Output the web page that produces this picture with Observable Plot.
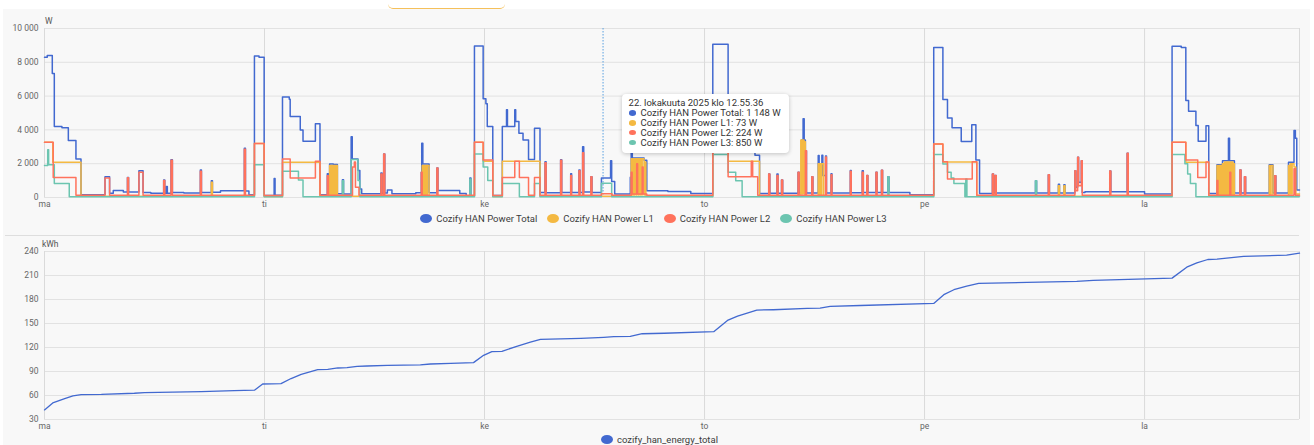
<!DOCTYPE html>
<html><head><meta charset="utf-8">
<script src="https://cdn.jsdelivr.net/npm/d3@7"></script>
<script src="https://cdn.jsdelivr.net/npm/@observablehq/plot@0.6"></script>
<style>
body{margin:0;background:#fff;font-family:Roboto,sans-serif;}
#wrap{position:relative;width:1314px;height:445px;overflow:hidden;background:#fff}
#panel{position:absolute;left:3px;top:9px;width:1307px;height:436px;background:#f8f8f8}
.abs{position:absolute}
svg text{font-family:Roboto,sans-serif}
.legend{position:absolute;left:0;width:1307px;display:flex;justify-content:center;gap:10px;font-size:9.5px;color:#3c3c3c;white-space:nowrap}
.legend span.item{display:flex;align-items:center;gap:4px}
.legend i{display:inline-block;width:12px;height:9px;border-radius:50%}
#tip{position:absolute;background:#fff;border-radius:4px;box-shadow:0 1px 4px rgba(0,0,0,0.22);font-size:9.5px;color:#333;line-height:9.9px;padding:4px 8px 5px 7px;white-space:nowrap}
#tip .row{display:flex;align-items:center;gap:5px}
#tip i{display:inline-block;width:7px;height:5.5px;border-radius:50%}
</style></head><body>
<div id="wrap">
  <div id="panel"></div>
  <div class="abs" style="left:388px;top:4px;width:117px;height:4px;border-bottom:1.5px solid #f5c05a;border-radius:0 0 6px 6px"></div>
  <div id="topchart" class="abs" style="left:0;top:0"></div>
  <div class="abs" style="left:45px;top:16px;font-size:8.5px;color:#555">W</div>
  <div id="leg1" class="legend" style="top:213px"></div>
  <div class="abs" style="left:5px;top:235px;width:1294px;height:1px;background:#dedede"></div>
  <div id="bottomchart" class="abs" style="left:0;top:236px"></div>
  <div class="abs" style="left:42px;top:239px;font-size:8.5px;color:#555">kWh</div>
  <div id="leg2" class="legend" style="top:434px;left:6px"></div>
  <div id="tip"></div>
</div>
<script>
// ---- data (hours from Monday 20.10.2025 00:00) ----
const dayLabels = ["ma", "ti", "ke", "to", "pe", "la"];
const dayTicks = [0, 24, 48, 72, 96, 120];
const powerTicks = [0, 2000, 4000, 6000, 8000, 10000];
const energyTicks = [30, 60, 90, 120, 150, 180, 210, 240];
const seriesNames = ["Cozify HAN Power Total", "Cozify HAN Power L1", "Cozify HAN Power L2", "Cozify HAN Power L3"];
const seriesColors = ["#4269d0", "#f4b942", "#ff725c", "#6cc5b0"];

const powerTotal = [
[0,8300],[0.3,8400],[0.85,7330],[1.07,4200],[1.9,4120],[2.6,3370],[3.43,2280],[3.98,170],
[6.6,1230],[7.1,250],[7.5,420],[8.6,330],[9.05,1190],[9.17,320],[10.3,1590],[10.75,300],[11.6,250],
[13.0,1030],[13.12,250],[13.3,650],[13.4,250],[13.8,2240],[13.95,300],[15.2,260],
[17.0,1630],[17.12,300],[18.2,990],[18.32,310],[19.2,400],[21.8,2910],[21.92,380],[22.3,160],
[22.9,8380],[23.4,8300],[23.96,120],[25.05,1130],[25.15,130],
[25.96,5940],[26.7,5820],[26.8,4790],[27.9,4000],[28.2,3330],[29.55,4360],[30.05,160],
[30.85,1400],[30.97,300],[31.1,1980],[31.5,1950],[31.95,220],[32.5,1050],[32.62,200],
[33.45,3600],[33.57,2280],[34.2,1600],[34.4,500],[34.6,220],
[36.7,1450],[36.82,250],[37.0,2580],[37.12,260],[37.4,440],[37.9,220],
[40.5,280],[41.1,1500],[41.15,3210],[41.27,1980],[41.95,280],[42.8,1750],[42.92,420],[45.3,240],[46.0,110],
[46.4,1150],[46.52,110],
[46.9,8970],[47.85,5840],[48.15,5550],[48.3,4200],[48.9,120],
[49.94,4200],[50.4,5190],[50.5,4200],[51.3,5190],[51.4,4500],[51.75,3800],[52.2,3400],[52.8,2250],[53.45,4100],[54.05,300],
[54.6,2120],[54.72,280],[56.3,2240],[56.42,300],[57.4,1400],[57.5,300],[58.3,1630],[58.42,300],[58.7,3010],[58.82,320],[59.6,1230],[59.72,300],
[60.75,1148],[61.75,2180],[61.87,950],[62.2,200],
[63.9,1200],[64.0,2770],[64.12,2340],[65.4,2200],[65.7,400],[68.0,350],[70.5,240],
[72.9,9070],[74.57,5900],[75.5,4800],[76.5,4000],[77.5,2500],[78.0,240],
[79.0,1390],[79.12,250],[79.9,1390],[80.02,250],[80.4,1030],[80.52,250],[82.2,1490],[82.32,260],
[82.6,3400],[82.75,4660],[82.87,3400],[83.0,2770],[83.12,260],[83.7,1230],[83.82,260],
[84.4,2480],[84.5,1300],[84.8,2500],[84.9,1300],[85.2,2450],[85.3,260],[85.8,1400],[85.9,260],
[87.9,1600],[88.0,280],[89.2,1590],[89.32,300],[89.7,1300],[89.82,300],[90.7,1490],[90.82,300],
[91.3,1610],[91.42,300],[92.0,1230],[92.12,300],[94.4,160],
[97.0,8870],[98.0,5800],[98.5,4710],[99.0,4120],[100.0,3310],[101.15,4300],[101.6,2220],[102.0,240],
[103.4,1390],[103.52,260],[103.7,1300],[103.82,260],[108.1,990],[108.22,260],[109.5,1350],[109.62,260],
[110.6,790],[110.72,260],[111.2,750],[111.32,260],[112.4,1590],[112.5,600],[112.7,2380],[112.8,900],[113.1,2180],[113.2,300],[113.5,340],
[116.2,1570],[116.32,340],[118.1,2620],[118.22,340],[120.0,200],
[123.0,8950],[124.0,8870],[124.5,5740],[124.8,5110],[125.6,4260],[125.85,3330],[126.7,4240],[127.0,240],
[127.9,1940],[128.4,260],[128.5,2180],[129.15,3500],[129.27,2180],[129.8,260],[130.4,1630],[130.52,260],[130.9,1230],[131.02,260],
[133.6,1940],[134.0,260],[134.2,1290],[134.32,260],[135.7,2080],[136.3,3960],[136.45,3500],[136.6,440],[136.9,440]
];

const powerL1 = [
[0,3270],[0.9,2080],[3.98,80],[18.2,900],[18.32,80],
[22.9,3200],[23.96,60],[25.96,2080],[30.05,70],
[31.1,1900],[31.2,100],[31.25,1900],[31.4,100],[31.45,1900],[31.6,100],[31.65,1900],[31.8,100],[31.85,1900],[31.95,80],
[41.2,1900],[41.3,100],[41.35,1900],[41.5,100],[41.55,1900],[41.7,100],[41.75,1900],[41.95,80],
[46.9,3270],[47.85,2140],[48.9,60],[49.94,2140],[54.05,80],[60.75,73],
[64.0,2300],[64.1,150],[64.2,2300],[64.3,150],[64.4,2300],[64.55,150],[64.6,2300],[64.75,150],[64.8,2300],[64.95,150],[65.0,2300],[65.15,150],[65.2,2300],[65.4,150],[65.45,2100],[65.6,80],
[72.9,3270],[74.57,2140],[78.0,80],
[82.5,3400],[82.65,200],[82.7,3400],[82.85,200],[82.9,3300],[83.0,80],
[84.4,2000],[84.5,150],[84.6,2000],[84.7,150],[84.8,2000],[85.0,80],
[97.0,3170],[98.0,2100],[101.7,80],[110.6,700],[110.72,80],[111.2,700],[111.32,80],
[123.0,3270],[124.5,2080],[127.0,80],
[127.9,1900],[128.0,150],[128.1,1900],[128.2,150],[128.25,1900],[128.4,80],
[128.5,2000],[128.6,150],[128.7,2100],[128.8,150],[128.9,2100],[129.0,150],[129.05,2100],[129.2,150],[129.3,2100],[129.45,150],[129.5,2100],[129.65,150],[129.7,2000],[129.8,80],
[133.6,1900],[133.7,150],[133.8,1900],[134.0,80],
[135.7,1900],[135.85,200],[135.9,2000],[136.05,200],[136.1,2000],[136.3,1800],[136.5,200],[136.9,200]
];

const powerL2 = [
[0,3270],[0.95,1190],[3.43,140],[6.6,1150],[7.1,140],[9.05,1170],[9.17,140],[10.3,1500],[10.75,140],
[13.0,1000],[13.12,140],[13.8,2200],[13.95,140],[17.0,1550],[17.12,140],[21.8,2850],[21.92,140],
[22.9,3200],[23.96,120],[25.96,2280],[26.8,1150],[29.55,2140],[30.05,130],
[30.85,1290],[30.97,130],[33.6,1800],[33.8,2100],[33.92,600],[34.3,130],
[36.7,1390],[36.82,130],[37.0,2580],[37.12,130],[41.1,1500],[41.2,130],[42.8,1750],[42.92,130],
[46.9,3270],[47.85,2220],[48.9,120],[49.94,1190],[51.3,2140],[51.8,1190],[52.8,130],[53.45,1190],[54.05,130],
[54.6,2050],[54.72,130],[56.3,2200],[56.42,130],[57.4,1300],[57.5,130],[58.3,1590],[58.42,130],[58.7,2650],[58.82,130],[59.6,1230],[59.72,130],
[60.75,224],[61.9,130],[64.0,1500],[64.1,200],[64.6,2000],[64.7,200],[65.2,1800],[65.3,200],[65.7,130],
[72.9,3200],[74.57,1230],[77.1,2140],[77.25,1230],[77.8,130],
[79.0,1390],[79.12,130],[79.9,1300],[80.02,130],[80.4,1030],[80.52,130],[82.2,1490],[82.32,130],[83.0,2770],[83.12,130],
[83.7,1230],[83.82,130],[85.2,2400],[85.3,130],[85.8,1350],[85.9,130],[87.9,1550],[88.0,130],[89.2,1500],[89.32,130],
[89.7,1300],[89.82,130],[90.7,1490],[90.82,130],[91.3,1610],[91.42,130],
[97.0,3170],[98.0,2120],[98.5,1090],[101.2,2120],[101.7,130],
[103.4,1390],[103.52,130],[103.7,1300],[103.82,130],[109.5,1350],[109.62,130],[112.4,1590],[112.5,400],[112.7,2380],[112.8,700],[113.1,2180],[113.2,130],
[116.2,1570],[116.32,130],[118.1,2620],[118.22,130],
[123.0,3270],[124.5,2220],[125.8,1190],[126.7,2100],[127.0,130],
[127.9,1000],[128.0,130],[129.3,1500],[129.4,130],[130.4,1630],[130.52,130],[130.9,1230],[131.02,130],[134.2,1290],[134.32,130],[136.3,1700],[136.45,130],[136.9,130]
];

const powerL3 = [
[0,1900],[0.35,2820],[0.45,1940],[1.07,830],[2.7,40],
[22.9,1940],[23.96,40],[25.96,1550],[27.7,1030],[28.2,40],
[32.5,990],[32.62,40],[33.45,2250],[34.2,1000],[34.4,40],[46.4,1090],[46.52,40],
[46.9,2580],[47.85,1800],[48.35,1000],[48.9,40],[49.94,830],[51.8,40],[53.45,830],[54.05,40],
[60.75,850],[61.75,850],[61.87,40],
[72.9,2540],[74.57,1500],[75.4,990],[76.1,40],[92.0,1230],[92.12,40],
[97.0,2540],[98.0,1980],[98.5,1490],[98.9,1150],[99.2,830],[100.4,40],[100.5,1100],[100.62,40],[108.1,990],[108.22,40],
[123.0,2540],[124.4,2000],[124.7,1390],[125.0,830],[125.6,40],[136.9,40]
];

const energyHours = [0,0.9,2.2,3.1,4.0,6.2,9.8,10.9,17.1,20.7,22.9,23.8,25.8,26.9,28.0,29.8,30.9,32.0,33.0,34.1,35.2,37.4,41.0,42.1,44.3,46.8,47.9,48.8,49.9,51.6,53.0,54.1,58.5,61.0,62.1,63.9,65.2,67.6,73.0,74.5,75.6,77.7,79.5,83.2,84.6,85.7,89.0,97.0,98.1,99.2,100.6,101.9,107.2,112.6,114.4,123.0,124.6,125.7,126.9,127.9,130.8,135.5,136.9];
const energyKWh = [42,50.7,56.2,59.6,61.2,61.3,62.8,63.6,64.9,66.2,66.6,74.4,74.8,81.2,86.5,92.3,92.7,94.4,94.8,96.5,96.9,97.7,98.2,99.4,100.2,101.1,110.2,114.8,115.2,121.8,126.8,130.2,131.4,132.7,133.5,133.9,137.2,137.8,139.8,153.9,159.3,166.8,167.2,168.9,169.3,171.4,172.5,175.1,186.0,192.2,196.7,200.1,201.3,202.6,203.8,206.7,220.4,225.9,230.0,230.4,233.8,235.4,237.9];

const tooltipHour = 60.93;
const tooltipTitle = "22. lokakuuta 2025 klo 12.55.36";
const tooltipValues = ["1 148 W", "73 W", "224 W", "850 W"];
const energyName = "cozify_han_energy_total";
const xEnd = 136.9;

// ---- build ----
const fmt = d => d3.format(",")(d).replace(/,/g, " ");
const toRows = arr => arr.map(([h, v]) => ({h, v}));
const dayFmt = d => dayLabels[dayTicks.indexOf(d)];
const gridCol = "#e2e2e2";

const topChart = Plot.plot({
  width: 1314, height: 212,
  marginTop: 28, marginBottom: 15, marginLeft: 44, marginRight: 15,
  style: {background: "transparent", fontFamily: "Roboto, sans-serif", fontSize: "8.5px", color: "#666"},
  x: {domain: [0, xEnd]},
  y: {domain: [0, 10000]},
  marks: [
    Plot.gridY({ticks: powerTicks, stroke: gridCol, strokeOpacity: 1}),
    Plot.gridX({ticks: dayTicks, stroke: "#dadada", strokeOpacity: 1}),
    Plot.ruleX([xEnd], {stroke: "#dadada"}),
    Plot.axisY({ticks: powerTicks, tickSize: 0, tickPadding: 6, tickFormat: fmt, label: null}),
    Plot.axisX({ticks: dayTicks, tickSize: 0, tickPadding: 3, tickFormat: dayFmt, label: null}),
    Plot.ruleX([tooltipHour], {stroke: "#5aa0e0", strokeWidth: 1, strokeDasharray: "1.5,1.5"}),
    Plot.line(toRows(powerTotal), {x: "h", y: "v", curve: "step-after", stroke: seriesColors[0], strokeWidth: 1.5}),
    Plot.line(toRows(powerL1), {x: "h", y: "v", curve: "step-after", stroke: seriesColors[1], strokeWidth: 1.5}),
    Plot.line(toRows(powerL3), {x: "h", y: "v", curve: "step-after", stroke: seriesColors[3], strokeWidth: 1.5}),
    Plot.line(toRows(powerL2), {x: "h", y: "v", curve: "step-after", stroke: seriesColors[2], strokeWidth: 1.5})
  ]
});
document.getElementById("topchart").appendChild(topChart);

const energyRows = energyHours.map((h, i) => ({h, v: energyKWh[i]}));
const bottomChart = Plot.plot({
  width: 1314, height: 200,
  marginTop: 15, marginBottom: 17, marginLeft: 44, marginRight: 15,
  style: {background: "transparent", fontFamily: "Roboto, sans-serif", fontSize: "8.5px", color: "#666"},
  x: {domain: [0, xEnd]},
  y: {domain: [30, 240]},
  marks: [
    Plot.gridY({ticks: energyTicks, stroke: gridCol, strokeOpacity: 1}),
    Plot.gridX({ticks: dayTicks, stroke: "#dadada", strokeOpacity: 1}),
    Plot.ruleX([xEnd], {stroke: "#dadada"}),
    Plot.axisY({ticks: energyTicks, tickSize: 0, tickPadding: 6, label: null}),
    Plot.axisX({ticks: dayTicks, tickSize: 0, tickPadding: 3, tickFormat: dayFmt, label: null}),
    Plot.line(energyRows, {x: "h", y: "v", stroke: seriesColors[0], strokeWidth: 1.3})
  ]
});
document.getElementById("bottomchart").appendChild(bottomChart);

// legends
const leg1 = document.getElementById("leg1");
seriesNames.forEach((n, i) => {
  const s = document.createElement("span"); s.className = "item";
  s.innerHTML = `<i style="background:${seriesColors[i]}"></i>${n}`;
  leg1.appendChild(s);
});
const leg2 = document.getElementById("leg2");
leg2.innerHTML = `<span class="item"><i style="background:${seriesColors[0]}"></i>${energyName}</span>`;

// tooltip
const tip = document.getElementById("tip");
const xs = topChart.scale("x");
tip.style.left = (xs.apply(tooltipHour) + 19) + "px";
tip.style.top = "94px";
tip.innerHTML = `<div>${tooltipTitle}</div>` + seriesNames.map((n, i) =>
  `<div class="row"><i style="background:${seriesColors[i]}"></i>${n}: ${tooltipValues[i]}</div>`).join("");
</script>
</body></html>
